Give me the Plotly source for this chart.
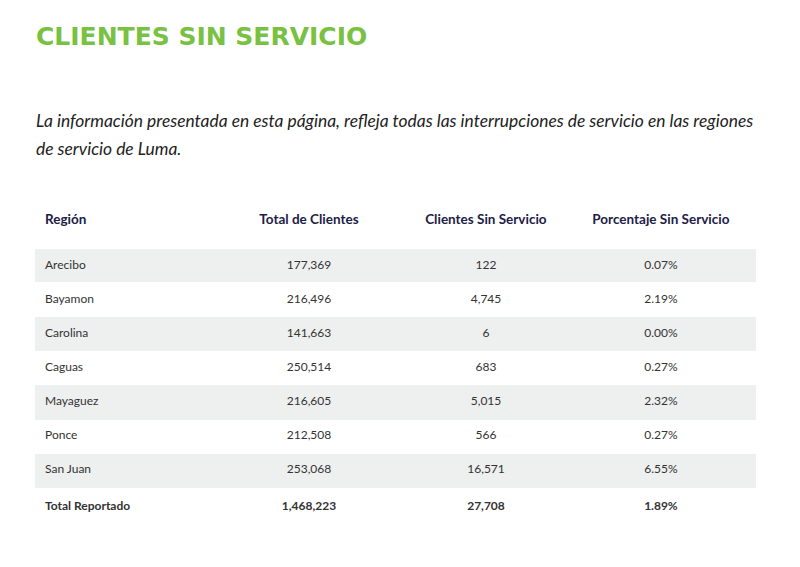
import plotly.graph_objects as go

regions = ["Arecibo", "Bayamon", "Carolina", "Caguas", "Mayaguez", "Ponce", "San Juan"]
total_clientes = [177369, 216496, 141663, 250514, 216605, 212508, 253068]
sin_servicio = [122, 4745, 6, 683, 5015, 566, 16571]
porcentaje = [0.07, 2.19, 0.00, 0.27, 2.32, 0.27, 6.55]
total_label = "Total Reportado"
total_total = 1468223
total_sin = 27708
total_pct = 1.89
headers = ["Región", "Total de Clientes", "Clientes Sin Servicio", "Porcentaje Sin Servicio"]
title = "CLIENTES SIN SERVICIO"
subtitle_lines = [
    "La información presentada en esta página, refleja todas las interrupciones de servicio en las regiones",
    "de servicio de Luma.",
]

W, H = 800, 567
OFF = 8  # page body margin


def xp(X):
    return (X - OFF) / W


def yp(Y):
    return 1 - (Y - OFF) / H


GRAY = "#eeefef"
NAVY = "#1c2046"
TXT = "#333333"
CLEAR = "rgba(0,0,0,0)"

col1 = regions + [f"<b>{total_label}</b>"]
col2 = [f"{v:,}" for v in total_clientes] + [f"<b>{total_total:,}</b>"]
col3 = [f"{v:,}" for v in sin_servicio] + [f"<b>{total_sin:,}</b>"]
col4 = [f"{v:.2f}%" for v in porcentaje] + [f"<b>{total_pct:.2f}%</b>"]
n = len(col1)
fills = [GRAY if i % 2 == 0 else "white" for i in range(n)]

x0, x1 = 35, 756
bg_top, bot = 198, 545
shift = 4
widths = [173, 198, 156, 194]
ROW_H = 34.3
HEAD_H = 50

# background stripes
bg = go.Table(
    domain=dict(x=[xp(x0), xp(x1)], y=[yp(bot), yp(bg_top)]),
    columnwidth=widths,
    header=dict(values=["", "", "", ""], fill_color="white", line_color="white", height=HEAD_H),
    cells=dict(
        values=[[""] * n] * 4,
        fill_color=[fills] * 4,
        line=dict(color=[fills] * 4, width=0),
        height=ROW_H,
    ),
)

fg = go.Table(
    domain=dict(x=[xp(x0 + 2), xp(x1 + 2)], y=[yp(bot + shift), yp(bg_top + shift + 1)]),
    columnwidth=widths,
    header=dict(
        values=[f"<b>{h}</b>" for h in headers],
        align=["left", "center", "center", "center"],
        fill_color=CLEAR,
        line_color=CLEAR,
        font=dict(family="Lato", size=13.5, color=NAVY),
        height=HEAD_H - 1,
    ),
    cells=dict(
        values=[col1, col2, col3, col4],
        align=["left", "center", "center", "center"],
        fill_color=CLEAR,
        line=dict(color=CLEAR, width=0),
        font=dict(family="Lato", size=12, color=TXT),
        height=ROW_H - 0.3,
    ),
)

fig = go.Figure([bg, fg])

fig.add_annotation(
    x=xp(34), y=yp(36), xref="paper", yref="paper", xanchor="left", yanchor="middle",
    text=f"<b>{title}</b>", showarrow=False,
    font=dict(family="DejaVu Sans", size=25, color="#79c142"),
)
for i, (line, yc) in enumerate(zip(subtitle_lines, [121, 149])):
    fig.add_annotation(
        x=xp(34), y=yp(yc), xref="paper", yref="paper", xanchor="left", yanchor="middle",
        text=f"<i>{line}</i>", showarrow=False, align="left",
        font=dict(family="Lato", size=17.4, color="#222222"),
    )

fig.update_layout(
    width=W, height=H,
    margin=dict(l=0, r=0, t=0, b=0),
    paper_bgcolor="white", plot_bgcolor="white",
)
fig.write_html("out.html")
